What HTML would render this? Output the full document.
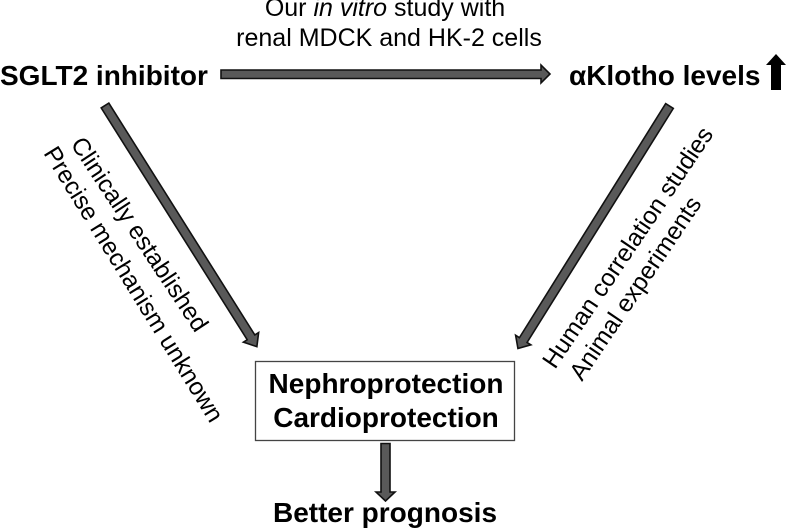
<!DOCTYPE html>
<html><head><meta charset="utf-8"><style>
html,body{margin:0;padding:0;background:#fff;width:787px;height:529px;overflow:hidden}
svg{display:block}
text{font-family:"Liberation Sans",Arial,sans-serif;fill:#000}
.b{font-weight:bold;font-size:28px}
.r{font-size:25px}
.d{font-size:24.5px}
.a{fill:#595959;stroke:#111;stroke-width:1.6}
</style></head><body>
<svg width="787" height="529" viewBox="0 0 787 529" xmlns="http://www.w3.org/2000/svg">
<text class="r" x="385" y="16" text-anchor="middle">Our <tspan font-style="italic">in vitro</tspan> study with</text>
<text class="r" x="389" y="46" text-anchor="middle">renal MDCK and HK-2 cells</text>
<text class="b" x="0" y="85">SGLT2 inhibitor</text>
<text class="b" x="569" y="85">αKlotho levels</text>
<polygon points="776,54 786,65 781,65 781,90 771,90 771,65 766,65" fill="#000"/>
<polygon class="a" points="221,70 541,70 541,65 550,74 541,83 541,78.500 221,78.500"/>
<g transform="translate(105,105.500) rotate(57.800)">
<polygon class="a" points="0,-4.500 274,-4.500 274,-9 285,0 274,9 274,4.500 0,4.500"/>
</g>
<g transform="translate(669.500,106) rotate(122)">
<polygon class="a" points="0,-4.500 276,-4.500 276,-9 286,0 276,9 276,4.500 0,4.500"/>
</g>
<rect x="255.500" y="361.500" width="259" height="79" fill="#fff" stroke="#444" stroke-width="1.300"/>
<text class="b" x="386" y="393" text-anchor="middle">Nephroprotection</text>
<text class="b" x="386" y="427" text-anchor="middle">Cardioprotection</text>
<polygon class="a" points="381,443.500 390,443.500 390,492 395,492 385.500,501 376,492 381,492"/>
<text class="b" x="385" y="522" text-anchor="middle">Better prognosis</text>
<text class="d" transform="translate(70,144) rotate(56.500)">Clinically established</text>
<text class="d" transform="translate(43,153) rotate(58.300)">Precise mechanism unknown</text>
<text class="d" transform="translate(555,370) rotate(-56)">Human correlation studies</text>
<text class="d" transform="translate(582,382) rotate(-56)">Animal experiments</text>
</svg>
</body></html>
